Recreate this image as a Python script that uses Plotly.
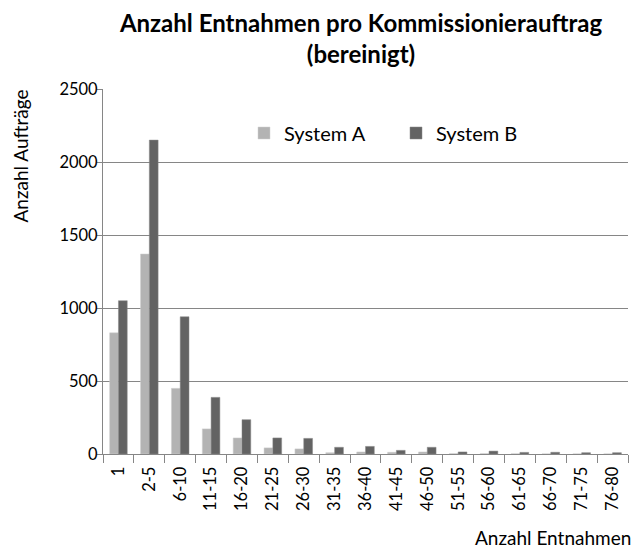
import plotly.graph_objects as go

categories = ["1", "2-5", "6-10", "11-15", "16-20", "21-25", "26-30", "31-35", "36-40",
              "41-45", "46-50", "51-55", "56-60", "61-65", "66-70", "71-75", "76-80"]
system_a = [830, 1370, 450, 172, 110, 42, 35, 9, 14, 12, 14, 3, 3, 2, 1, 1, 1]
system_b = [1050, 2150, 940, 388, 235, 110, 107, 46, 52, 25, 46, 14, 20, 11, 12, 9, 9]
y_ticks = [0, 500, 1000, 1500, 2000, 2500]

FONT = "Lato, 'Open Sans', sans-serif"

fig = go.Figure()
fig.add_trace(go.Bar(name="System A", x=categories, y=system_a,
                     marker=dict(color="#b3b3b3", line=dict(color="#d0d0d0", width=0.5))))
fig.add_trace(go.Bar(name="System B", x=categories, y=system_b,
                     marker=dict(color="#636363", line=dict(color="#8a8a8a", width=0.5))))

fig.update_layout(
    width=638, height=550,
    margin=dict(l=103, r=10, t=89, b=96, autoexpand=False),
    paper_bgcolor="white", plot_bgcolor="white",
    barmode="group", bargap=0.43, bargroupgap=0,
    font=dict(family=FONT, size=16.5, color="#000000"),
    title=dict(text="<b>Anzahl Entnahmen pro Kommissionierauftrag<br>(bereinigt)</b>",
               x=361/638, xanchor="center", y=1 - 32/550, yanchor="middle",
               font=dict(family=FONT, size=24, color="#000000")),
    showlegend=True,
    legend=dict(orientation="h", x=(244 - 103) / 525, y=(454 - 133) / 365,
                xanchor="left", yanchor="middle",
                bgcolor="white", font=dict(size=20), itemwidth=30,
                traceorder="normal", entrywidth=107),
    xaxis=dict(type="category", tickangle=-90, showline=True, linecolor="#868686",
               ticks="outside", tickson="boundaries", ticklen=8, tickcolor="#868686",
               showgrid=False, tickfont=dict(size=16.5), automargin=False,
               ticklabelstandoff=5),
    yaxis=dict(range=[0, 2500], tickvals=y_ticks, showline=True, linecolor="#868686",
               ticks="outside", ticklen=5, tickcolor="#868686",
               showgrid=True, gridcolor="#868686", gridwidth=1,
               tickfont=dict(size=16.5), zeroline=False, automargin=False,
               ticklabelstandoff=-4),
    annotations=[
        dict(text="Anzahl Aufträge", xref="paper", yref="paper", x=(20 - 103) / 525,
             y=(454 - 88) / 365, xanchor="center", yanchor="top", textangle=-90,
             showarrow=False, font=dict(size=19)),
        dict(text="Anzahl Entnahmen", xref="paper", yref="paper", x=(633 - 103) / 525,
             y=(454 - 537) / 365, xanchor="right", yanchor="middle", showarrow=False,
             font=dict(size=19)),
    ],
)

fig.write_html("out.html", config={"displayModeBar": False},
               post_script="document.body.style.margin='0';document.body.style.padding='0';"
                           "document.documentElement.style.overflow='hidden';")
